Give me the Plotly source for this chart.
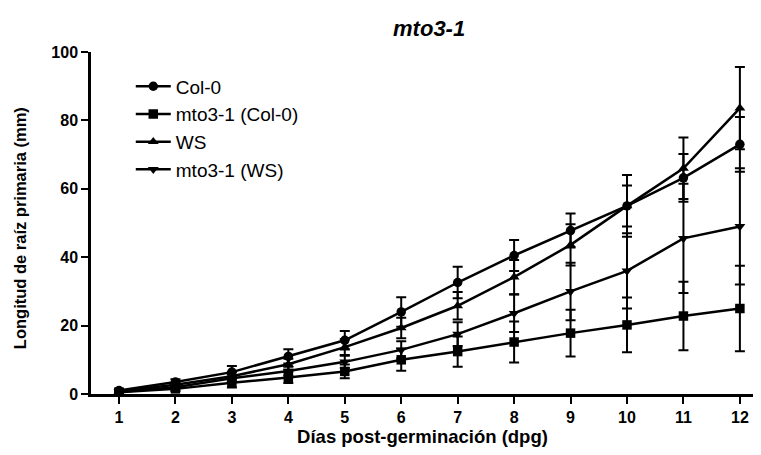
import plotly.graph_objects as go

days = [1, 2, 3, 4, 5, 6, 7, 8, 9, 10, 11, 12]

col0 = [1.0, 3.5, 6.4, 11.0, 15.7, 24.0, 32.6, 40.5, 47.8, 55.0, 63.2, 73.0]
col0_err = [0.5, 0.8, 1.8, 2.1, 2.7, 4.3, 4.6, 4.5, 5.0, 6.0, 7.0, 8.0]

mto_col0 = [0.5, 1.5, 3.3, 4.8, 6.6, 10.0, 12.4, 15.2, 17.8, 20.2, 22.8, 25.0]
mto_col0_err = [0.3, 0.6, 1.4, 1.6, 2.0, 3.2, 4.4, 6.0, 6.8, 8.0, 10.0, 12.5]

ws = [0.8, 2.7, 5.2, 8.7, 13.7, 19.3, 25.8, 34.2, 43.6, 55.0, 66.0, 83.6]
ws_err = [0.4, 0.6, 1.2, 1.6, 2.3, 3.0, 4.0, 5.0, 6.0, 9.0, 9.0, 12.0]

mto_ws = [0.6, 2.0, 4.6, 6.7, 9.4, 12.9, 17.5, 23.6, 30.0, 36.0, 45.5, 49.0]
mto_ws_err = [0.3, 0.5, 1.0, 1.3, 1.8, 2.5, 3.5, 5.5, 8.4, 11.0, 16.0, 17.0]

y_ticks = [0, 20, 40, 60, 80, 100]

series = [
    ("Col-0", col0, col0_err, "circle"),
    ("mto3-1 (Col-0)", mto_col0, mto_col0_err, "square"),
    ("WS", ws, ws_err, "triangle-up"),
    ("mto3-1 (WS)", mto_ws, mto_ws_err, "triangle-down"),
]

FAM = "Liberation Sans, Arial, Helvetica, sans-serif"

fig = go.Figure()
for i, (name, vals, errs, sym) in enumerate(series):
    fig.add_trace(go.Scatter(
        x=days, y=vals, name=name, mode="lines+markers",
        legendgroup=f"g{i}",
        line=dict(color="black", width=2.5),
        marker=dict(symbol=sym, size=9.5, color="black"),
        error_y=dict(type="data", array=errs, visible=True,
                     color="black", thickness=2, width=5),
    ))

tickfont = dict(family=FAM, size=16, color="black", weight="bold")

# the page body has an 8px margin, so the figure is sized/offset to compensate
fig.update_layout(
    width=753, height=447,
    paper_bgcolor="white", plot_bgcolor="white",
    margin=dict(l=83, r=7, t=44, b=61),
    title=dict(text="<i>mto3-1</i>", x=0.51, xanchor="center", xref="paper",
               y=0.955, yanchor="middle",
               font=dict(family=FAM, size=22, color="black", weight="bold")),
    showlegend=True,
    legend=dict(x=0.06, y=0.955, xanchor="left", yanchor="top",
                font=dict(family=FAM, size=19, color="black"),
                bgcolor="rgba(0,0,0,0)", tracegroupgap=0, itemwidth=35),
    xaxis=dict(range=[0.504, 12.25], tickvals=days, ticktext=[str(d) for d in days],
               automargin=False,
               showline=True, linecolor="black", linewidth=2.5,
               ticks="outside", ticklen=7, tickwidth=2, tickcolor="black",
               showgrid=False, zeroline=False, tickfont=tickfont,
               title=dict(text="Días post-germinación (dpg)", standoff=4,
                          font=dict(family=FAM, size=18.5, color="black", weight="bold"))),
    yaxis=dict(range=[0, 100], tickvals=y_ticks,
               automargin=False,
               showline=True, linecolor="black", linewidth=2.5,
               ticks="outside", ticklen=7, tickwidth=2, tickcolor="black",
               showgrid=False, zeroline=False, tickfont=tickfont),
    annotations=[dict(text="Longitud de raíz primaria (mm)", textangle=-90,
                      xref="paper", yref="paper", x=-0.107, y=0.485,
                      xanchor="center", yanchor="middle", showarrow=False,
                      font=dict(family=FAM, size=16.5, color="black", weight="bold"))],
)

fig.write_html("out.html")
